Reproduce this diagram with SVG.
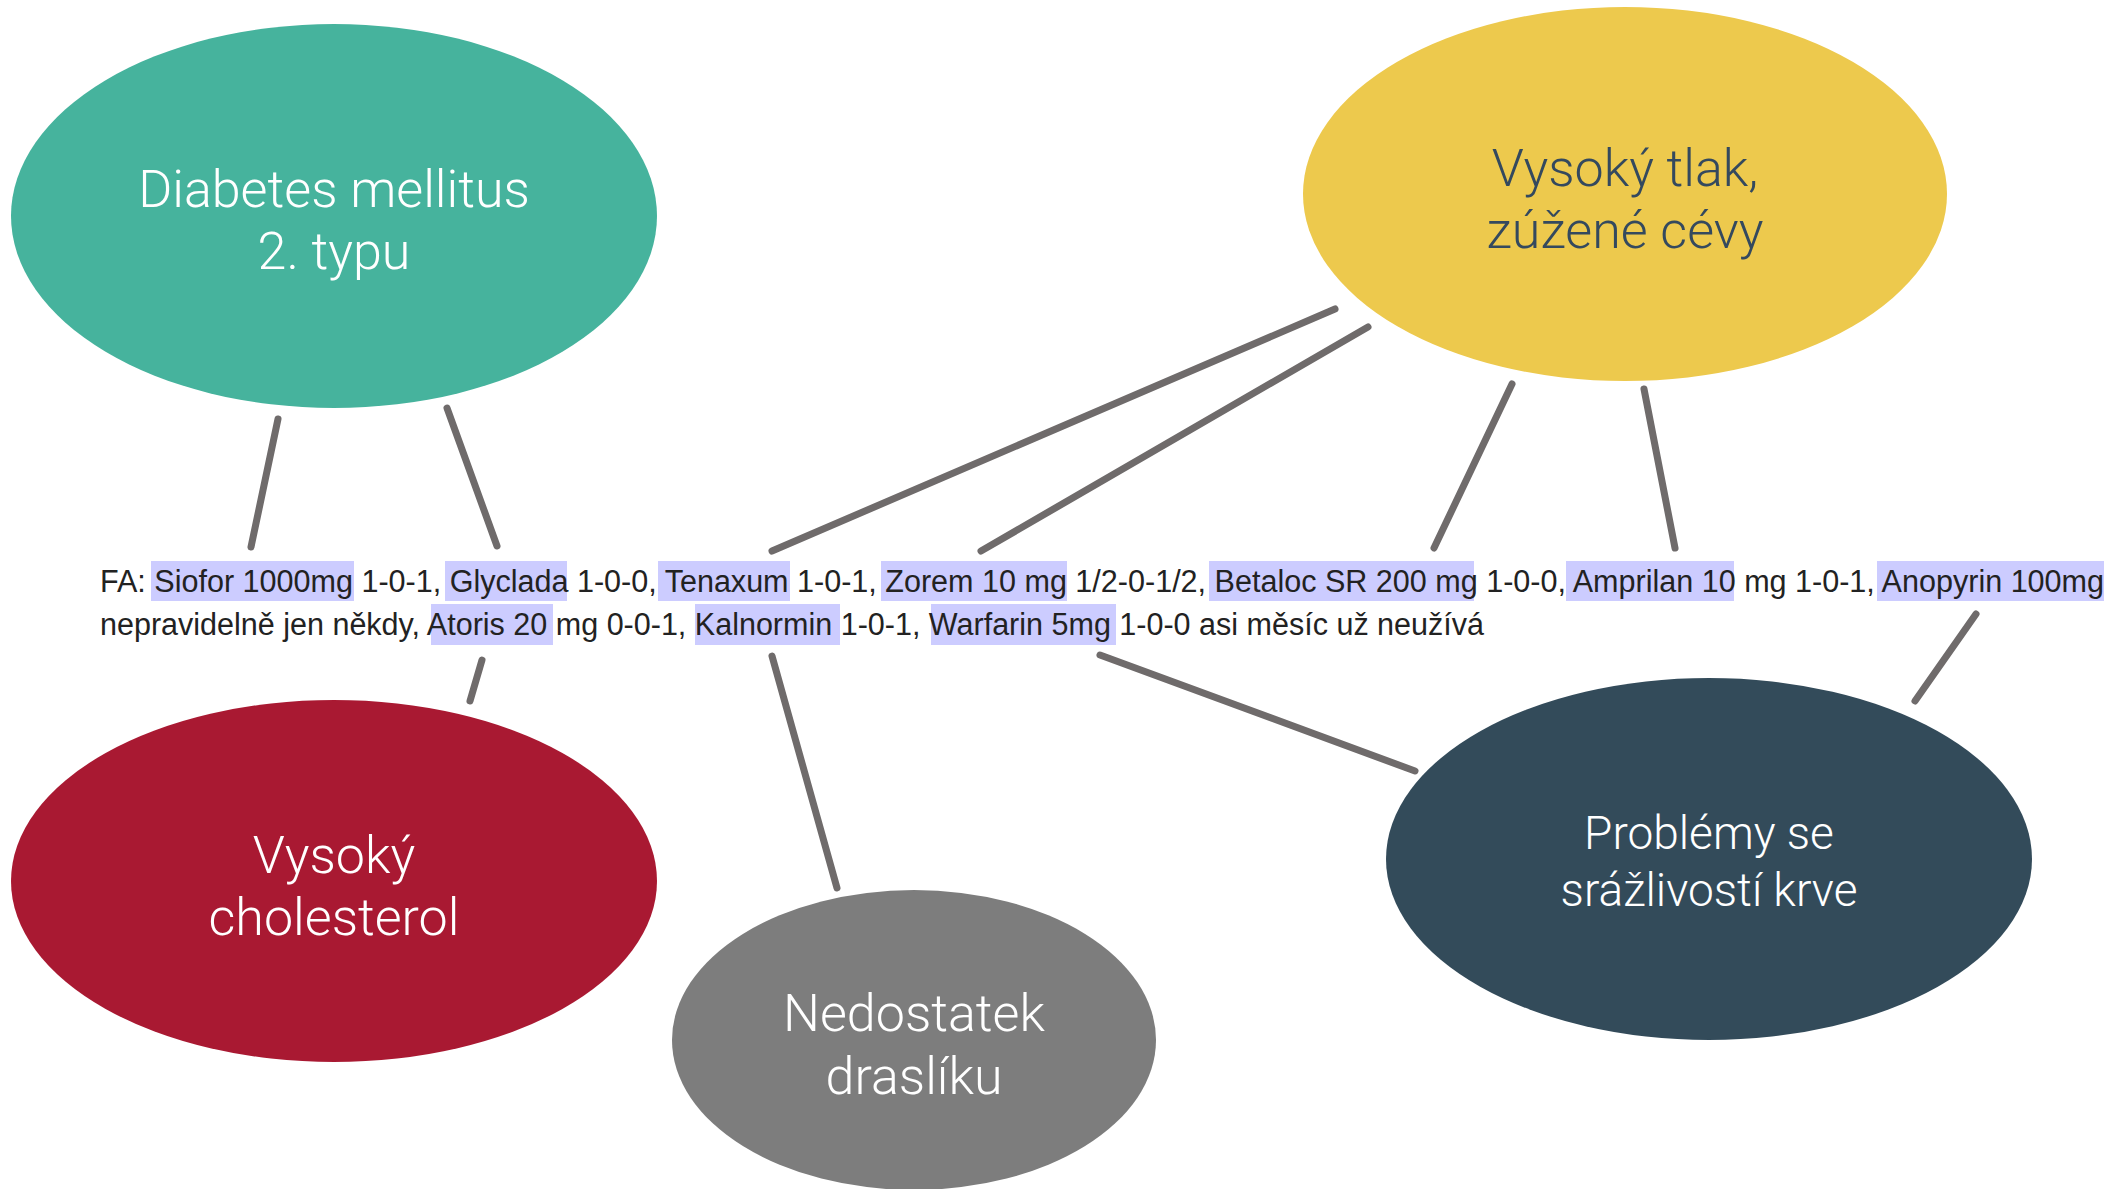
<svg xmlns="http://www.w3.org/2000/svg" width="2113" height="1189" viewBox="0 0 2113 1189">
<style>
.lbl{font-family:Roboto,"Open Sans","Liberation Sans",sans-serif;font-weight:300;text-anchor:middle}
.w{fill:#ffffff}
.fa{font-family:"Liberation Sans",Arial,sans-serif;font-size:31px;fill:#222222}
.hl{fill:#ccccff}
.c line{stroke:#6f6b6b;stroke-width:7;stroke-linecap:round}
</style>
<rect width="2113" height="1189" fill="#ffffff"/>
<g id="fa-text">
<rect class="hl" x="151" y="561" width="203" height="40"/>
<rect class="hl" x="445" y="561" width="122" height="40"/>
<rect class="hl" x="658" y="561" width="132" height="40"/>
<rect class="hl" x="881" y="561" width="186" height="40"/>
<rect class="hl" x="1209" y="561" width="265" height="40"/>
<rect class="hl" x="1566" y="561" width="168" height="40"/>
<rect class="hl" x="1877" y="561" width="227" height="40"/>
<rect class="hl" x="431" y="604" width="122" height="41"/>
<rect class="hl" x="695" y="604" width="145" height="41"/>
<rect class="hl" x="931" y="604" width="185" height="41"/>
<text class="fa" x="100" y="592" textLength="2004" lengthAdjust="spacingAndGlyphs">FA: Siofor 1000mg 1-0-1, Glyclada 1-0-0, Tenaxum 1-0-1, Zorem 10 mg 1/2-0-1/2, Betaloc SR 200 mg 1-0-0, Amprilan 10 mg 1-0-1, Anopyrin 100mg</text>
<text class="fa" x="100" y="635" textLength="1384" lengthAdjust="spacingAndGlyphs">nepravidelně jen někdy, Atoris 20 mg 0-0-1, Kalnormin 1-0-1, Warfarin 5mg 1-0-0 asi měsíc už neužívá</text>
</g>
<g class="c" id="connectors">
<line x1="278" y1="419" x2="251" y2="547"/>
<line x1="447" y1="408" x2="497" y2="546"/>
<line x1="1335" y1="309" x2="772" y2="551"/>
<line x1="1368" y1="327" x2="981" y2="551"/>
<line x1="1512" y1="384" x2="1434" y2="548"/>
<line x1="1644" y1="389" x2="1675" y2="548"/>
<line x1="1976" y1="614" x2="1915" y2="701"/>
<line x1="482" y1="660" x2="470" y2="701"/>
<line x1="772" y1="656" x2="837" y2="888"/>
<line x1="1100" y1="655" x2="1415" y2="771"/>
</g>
<g id="diabetes">
<ellipse cx="334" cy="216" rx="323" ry="192" fill="#46b39d"/>
<text class="lbl w" font-size="52" x="334" y="207">Diabetes mellitus</text>
<text class="lbl w" font-size="52" x="334" y="269">2. typu</text>
</g>
<g id="tlak">
<ellipse cx="1625" cy="194" rx="322" ry="187" fill="#edc94d"/>
<text class="lbl" font-size="52" fill="#34495e" x="1625" y="186">Vysoký tlak,</text>
<text class="lbl" font-size="52" fill="#34495e" x="1625" y="248">zúžené cévy</text>
</g>
<g id="cholesterol">
<ellipse cx="334" cy="881" rx="323" ry="181" fill="#a91932"/>
<text class="lbl w" font-size="52" x="334" y="873">Vysoký</text>
<text class="lbl w" font-size="52" x="334" y="935">cholesterol</text>
</g>
<g id="draslik">
<ellipse cx="914" cy="1040" rx="242" ry="150" fill="#7d7d7d"/>
<text class="lbl w" font-size="52" x="914" y="1031">Nedostatek</text>
<text class="lbl w" font-size="52" x="914" y="1094">draslíku</text>
</g>
<g id="srazlivost">
<ellipse cx="1709" cy="859" rx="323" ry="181" fill="#334b5a"/>
<text class="lbl w" font-size="46" x="1709" y="849">Problémy se</text>
<text class="lbl w" font-size="46" x="1709" y="906">srážlivostí krve</text>
</g>
</svg>
